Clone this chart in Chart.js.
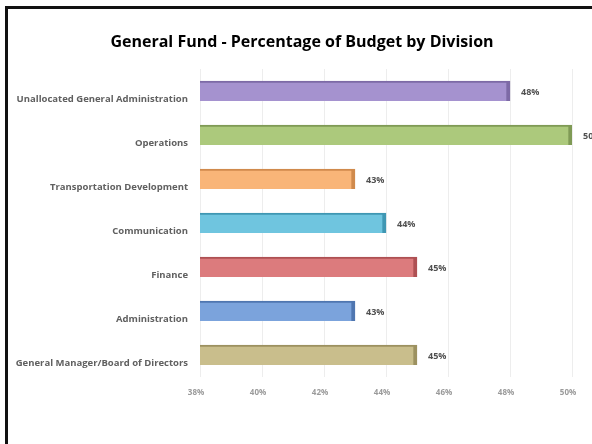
<!DOCTYPE html>
<html>
<head>
<meta charset="utf-8">
<script src="https://cdn.jsdelivr.net/npm/chart.js@4"></script>
<style>
  html, body { margin: 0; padding: 0; background: #fff; overflow: hidden; }
  .wrap { position: relative; width: 592px; height: 444px; }
  .frame {
    position: absolute; left: 5px; top: 6px; width: 620px; height: 460px;
    border-left: 3px solid #111; border-top: 3px solid #111;
  }
  #chart { position: absolute; left: 0; top: 0; }
</style>
</head>
<body>
<div class="wrap">
  <div class="frame"></div>
  <canvas id="chart" width="592" height="444"></canvas>
</div>
<script>
// divisions, top to bottom as in the picture
const divisions = [
  "Unallocated General Administration",
  "Operations",
  "Transportation Development",
  "Communication",
  "Finance",
  "Administration",
  "General Manager/Board of Directors",
];
const percentages = [48, 50, 43, 44, 45, 43, 45];
const xTicks = [38, 40, 42, 44, 46, 48, 50];
const chartTitle = "General Fund - Percentage of Budget by Division";

const faceColors = ["#a592cf", "#acc97c", "#f9b578", "#6fc5df", "#dc7b7d", "#7ba3dc", "#c9be8c"];
const edgeColors = ["#7d6aa6", "#7f9a55", "#d08a4c", "#3f97b3", "#ae5053", "#4f76b0", "#9c9160"];

const fontFamily = "'Open Sans', 'Noto Sans', sans-serif";

// title sits a bit right of the canvas centre, like the frame in the picture
const titlePlugin = {
  id: "titlePlugin",
  afterDraw(chart) {
    const ctx = chart.ctx;
    ctx.save();
    ctx.font = "bold 16px " + fontFamily;
    ctx.fillStyle = "#000";
    ctx.textAlign = "center";
    ctx.textBaseline = "middle";
    ctx.fillText(chartTitle, 302, 42);
    ctx.restore();
  },
};

// value labels at the end of each bar
const barValueLabels = {
  id: "barValueLabels",
  afterDatasetsDraw(chart) {
    const ctx = chart.ctx;
    const meta = chart.getDatasetMeta(0);
    ctx.save();
    ctx.font = "bold 9px " + fontFamily;
    ctx.fillStyle = "#505050";
    ctx.textAlign = "left";
    ctx.textBaseline = "middle";
    meta.data.forEach((bar, i) => {
      ctx.fillText(percentages[i] + "%", bar.x + 11, bar.y + 1);
    });
    ctx.restore();
  },
};

new Chart(document.getElementById("chart").getContext("2d"), {
  type: "bar",
  data: {
    labels: divisions,
    datasets: [
      {
        data: percentages,
        backgroundColor: faceColors,
        borderColor: edgeColors,
        borderWidth: { top: 2, right: 4, bottom: 0, left: 0 },
        borderSkipped: false,
        barThickness: 20,
      },
    ],
  },
  options: {
    indexAxis: "y",
    responsive: false,
    devicePixelRatio: 1,
    animation: false,
    layout: { padding: { left: 0, right: 20, top: 69, bottom: 0 } },
    plugins: {
      legend: { display: false },
      tooltip: { enabled: false },
      title: { display: false },
    },
    scales: {
      x: {
        min: xTicks[0],
        max: xTicks[xTicks.length - 1],
        afterBuildTicks: (scale) => {
          scale.ticks = xTicks.map((v) => ({ value: v }));
        },
        afterFit: (scale) => {
          scale.height = 67;
        },
        border: { display: false },
        grid: { color: "#ededed", drawTicks: false },
        ticks: {
          callback: (v) => v + "%",
          color: "#9a9a9a",
          font: { family: fontFamily, size: 8, weight: "bold" },
          padding: 11,
          labelOffset: -4,
          maxRotation: 0,
        },
      },
      y: {
        afterFit: (scale) => {
          scale.width = 200;
        },
        border: { display: false },
        grid: { display: false, drawTicks: false },
        ticks: {
          color: "#606060",
          font: { family: fontFamily, size: 9.5, weight: "bold" },
          padding: 12,
          labelOffset: 8,
        },
      },
    },
  },
  plugins: [barValueLabels, titlePlugin],
});
</script>
</body>
</html>
